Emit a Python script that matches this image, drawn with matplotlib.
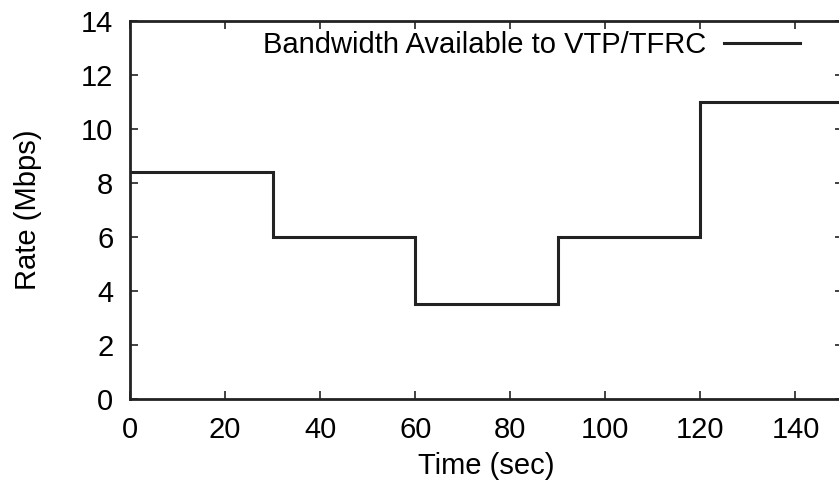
import matplotlib
matplotlib.use('Agg')
import matplotlib.pyplot as plt

# step changes of the available bandwidth
t_edges = [0, 30, 60, 90, 120, 150]
rate = [8.4, 6, 3.5, 6, 11]

xticks = [0, 20, 40, 60, 80, 100, 120, 140]
yticks = [0, 2, 4, 6, 8, 10, 12, 14]

plt.rcParams['font.family'] = ['Liberation Sans', 'DejaVu Sans']
plt.rcParams['font.size'] = 21

fig = plt.figure(figsize=(8.39, 4.91), dpi=100)
ax = fig.add_axes([130 / 839, 92 / 491, 713 / 839, 378.5 / 491])

ax.stairs(rate, t_edges, color='#222222', lw=2.2, baseline=None,
          label='Bandwidth Available to VTP/TFRC')

ax.set_xlim(0, 150)
ax.set_ylim(0, 14)
ax.set_xticks(xticks)
ax.set_yticks(yticks)
ax.tick_params(direction='in', length=6, width=1.2, top=True, right=True, color='#222222')
ax.tick_params(axis='x', pad=12)
ax.tick_params(axis='y', pad=12)
for s in ax.spines.values():
    s.set_linewidth(2)
    s.set_color('#222222')

ax.set_xlabel('Time (sec)', labelpad=6)
ax.set_ylabel('Rate (Mbps)', labelpad=28)

leg = ax.legend(loc='upper right', bbox_to_anchor=(0.976, 1.042), frameon=False,
                markerfirst=False, handlelength=2.6, handletextpad=0.6)

fig.savefig('out.png', dpi=100)
